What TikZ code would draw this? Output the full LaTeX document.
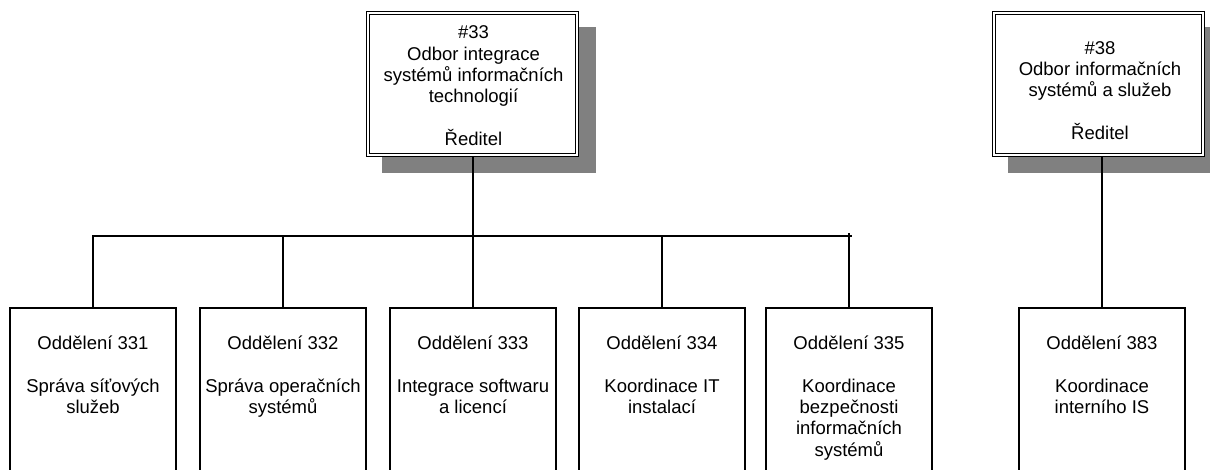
\documentclass[tikz,border=0pt]{standalone}
\usepackage{fontspec}
\setmainfont{Liberation Sans}
\usetikzlibrary{calc,backgrounds}
\definecolor{shadowgray}{HTML}{808080}
\tikzset{
  headbox/.style={draw, fill=white, double, double distance=1.6pt, line width=0.9pt,
    minimum width=209pt, minimum height=142pt, inner sep=0pt, outer sep=0pt},
  deptbox/.style={draw, fill=white, line width=1.6pt, minimum width=166pt,
    minimum height=175pt, anchor=north, inner sep=0pt, outer sep=0pt},
  txt/.style={font=\fontsize{18.5}{21.3}\selectfont, align=center, anchor=north,
    inner sep=0pt, execute at begin node={\rule{0pt}{0.9em}}},
  link/.style={line width=1.6pt},
  shadowfill/.style={fill=shadowgray}
}
\begin{document}
\begin{tikzpicture}[x=1pt,y=-1pt]
\useasboundingbox (0,0) rectangle (1210,470);
% head boxes
\node[headbox] (d33) at (472.5,84) {};
\node[headbox] (d38) at (1098.5,84) {};
\begin{scope}[on background layer]
  \fill[shadowfill] ($(d33.north west)+(14,14)$) rectangle ($(d33.south east)+(19,18)$);
  \fill[shadowfill] ($(d38.north west)+(14,14)$) rectangle ($(d38.south east)+(19,18)$);
\end{scope}
\node[txt] (t33) at (473.5,25.7) {\#33\\Odbor integrace\\systémů informačních\\technologií\\[21.3pt]Ředitel};
\node[txt] (t38) at (1100,41.2) {\#38\\Odbor informačních\\systémů a služeb\\[21.3pt]Ředitel};
% department boxes
\node[deptbox] (o331) at (93,308) {};
\node[deptbox] (o332) at (283,308) {};
\node[deptbox] (o333) at (473,308) {};
\node[deptbox] (o334) at (662,308) {};
\node[deptbox] (o335) at (849,308) {};
\node[deptbox] (o383) at (1102,308) {};
\node[txt] (t331) at ($(o331.north)+(0,27.9)$) {Oddělení 331\\[21.3pt]Správa síťových\\služeb};
\node[txt] (t332) at ($(o332.north)+(0,27.9)$) {Oddělení 332\\[21.3pt]Správa operačních\\systémů};
\node[txt] (t333) at ($(o333.north)+(0,27.9)$) {Oddělení 333\\[21.3pt]Integrace softwaru\\a licencí};
\node[txt] (t334) at ($(o334.north)+(0,27.9)$) {Oddělení 334\\[21.3pt]Koordinace IT\\instalací};
\node[txt] (t335) at ($(o335.north)+(0,27.9)$) {Oddělení 335\\[21.3pt]Koordinace\\bezpečnosti\\informačních\\systémů};
\node[txt] (t383) at ($(o383.north)+(0,27.9)$) {Oddělení 383\\[21.3pt]Koordinace\\interního IS};
% connectors
\coordinate (bus) at (473,236);
\begin{scope}[on background layer]
  \draw[link] (d33.south -| bus) -- (bus);
  \draw[link] (o383.north) -- (o383.north |- d38.south);
\end{scope}
\draw[link] (o331.north) |- (bus);
\draw[link] (bus) -- ($(bus -| o335.north)+(3,0)$);
\draw[link] (o332.north) -- (o332.north |- bus);
\draw[link] (o333.north) -- (bus);
\draw[link] (o334.north) -- (o334.north |- bus);
\draw[link] (o335.north) -- ($(o335.north |- bus)+(0,-3)$);
\end{tikzpicture}
\end{document}
